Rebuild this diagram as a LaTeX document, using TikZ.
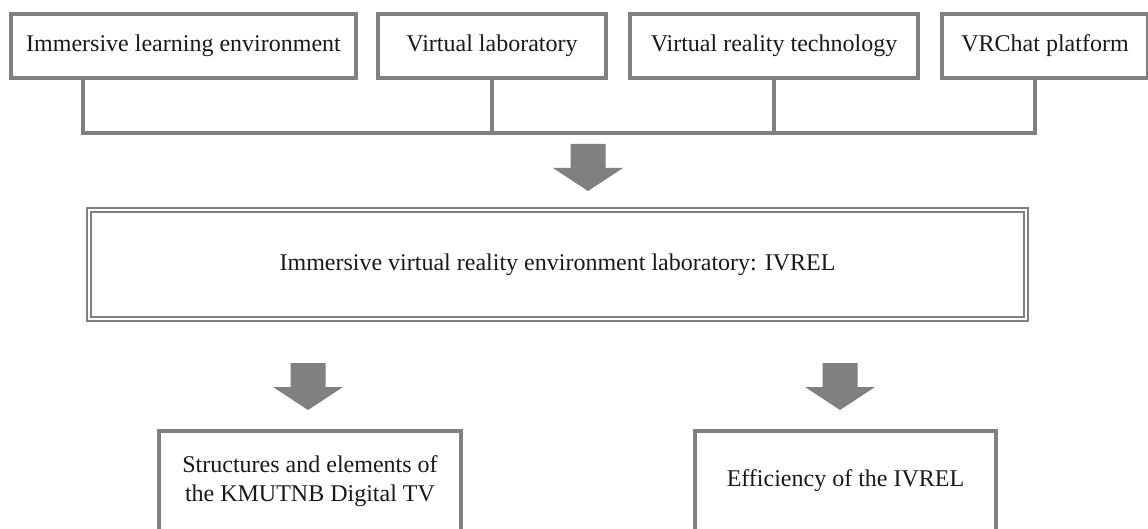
\documentclass[tikz,border=0pt]{standalone}
\usepackage{fontspec}
\setmainfont{Liberation Serif}
\definecolor{boxgray}{RGB}{128,128,128}
\definecolor{txtblack}{RGB}{25,25,25}

\tikzset{
  box/.style={draw=boxgray, line width=3.5pt, inner sep=0pt, text=txtblack,
    align=center, font=\fontsize{24}{29}\selectfont},
  topbox/.style={box, minimum height=64pt},
  mainbox/.style={draw=boxgray, double=white, double distance=2pt, line width=2pt,
    inner sep=0pt, text=txtblack, font=\fontsize{24}{29}\selectfont,
    minimum width=937pt, minimum height=109pt},
  resbox/.style={box, minimum width=302pt, minimum height=100pt},
  link/.style={draw=boxgray, line width=3.5pt},
  bigarrow/.pic={\fill[boxgray] (-17.5,0) -- (17.5,0) -- (17.5,24) -- (35,24)
    -- (0,47) -- (-35,24) -- (-17.5,24) -- cycle;}
}

\begin{document}
\begin{tikzpicture}[x=1pt, y=-1pt]
  \useasboundingbox (0,0) rectangle (1148,529);

  % Obere Reihe
  \node[topbox, minimum width=345pt] (imm) at (183.5,46) {Immersive learning environment};
  \node[topbox, minimum width=228pt] (vlab) at (492,46) {Virtual laboratory};
  \node[topbox, minimum width=288pt] (vrt) at (774,46) {Virtual reality technology};
  \node[topbox, minimum width=206pt] (vrc) at (1045,46) {VRChat platform};

  % Sammelschiene
  \coordinate (barL) at (83,133);
  \coordinate (barR) at (1035,133);
  \draw[link] (imm.south -| barL) |- (barR) -- (vrc.south -| barR);
  \draw[link] (vlab.south) -- (vlab.south |- barL);
  \draw[link] (vrt.south) -- (vrt.south |- barL);

  % Pfeil zur Mitte
  \pic at (588,144) {bigarrow};

  % Hauptkasten
  \node[mainbox] (ivrel) at (557.5,264.5) {Immersive virtual reality environment laboratory: IVREL};

  % Pfeile nach unten
  \pic at (308,363) {bigarrow};
  \pic at (840,363) {bigarrow};

  % Ergebnisse
  \node[resbox] (kmutnb) at (310,481) {Structures and elements of\\the KMUTNB Digital TV};
  \node[resbox, minimum width=301pt] (eff) at (845.5,481) {Efficiency of the IVREL};
\end{tikzpicture}
\end{document}
